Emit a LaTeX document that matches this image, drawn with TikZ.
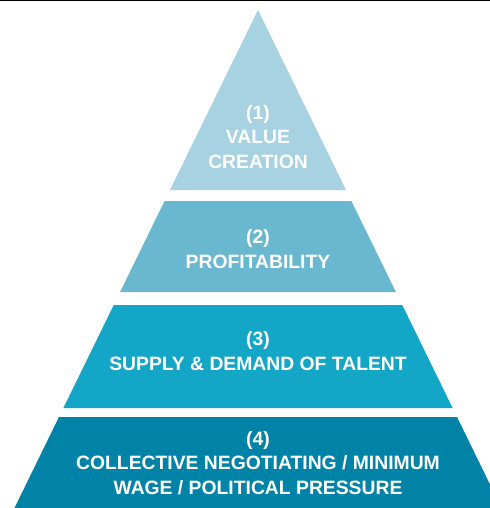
\documentclass[tikz,border=0pt]{standalone}
\usepackage{fontspec}
\setmainfont{Liberation Sans}
\usepackage{tikz}
\usetikzlibrary{positioning}

\definecolor{tierA}{RGB}{166,210,225}
\definecolor{tierB}{RGB}{106,184,208}
\definecolor{tierC}{RGB}{20,166,198}
\definecolor{tierD}{RGB}{0,131,166}

\tikzset{
  tierlabel/.style={text=white,align=center,inner sep=0pt,
    font=\bfseries\fontsize{11}{13.9}\selectfont}
}

\begin{document}
\begin{tikzpicture}[x=0.02cm,y=-0.02cm]
  \useasboundingbox (0,0) rectangle (490,508);
  \clip (0,0) rectangle (490,508);
  \fill[white] (0,0) rectangle (490,508);
  \draw[black,line width=0.03cm] (0,0.5) -- (490,0.5);
  % pyramid bands, half width grows with depth below the apex
  \foreach \ytop/\ybot/\shade in {10/190/tierA,201/292/tierB,305/408/tierC,417/530/tierD} {
    \pgfmathsetmacro\wtop{0.489*(\ytop-10)}
    \pgfmathsetmacro\wbot{0.489*(\ybot-10)}
    \fill[\shade] (258-\wtop,\ytop) -- (258+\wtop,\ytop)
      -- (258+\wbot,\ybot) -- (258-\wbot,\ybot) -- cycle;
  }
  \node[tierlabel] (value) at (258,137) {(1)\\VALUE\\CREATION};
  \node[tierlabel] (profit) at (258,249) {(2)\\PROFITABILITY};
  \node[tierlabel] (talent) at (258,351) {(3)\\SUPPLY \& DEMAND OF TALENT};
  \node[tierlabel] (wage) at (258,463) {(4)\\COLLECTIVE NEGOTIATING / MINIMUM\\WAGE / POLITICAL PRESSURE};
\end{tikzpicture}
\end{document}
